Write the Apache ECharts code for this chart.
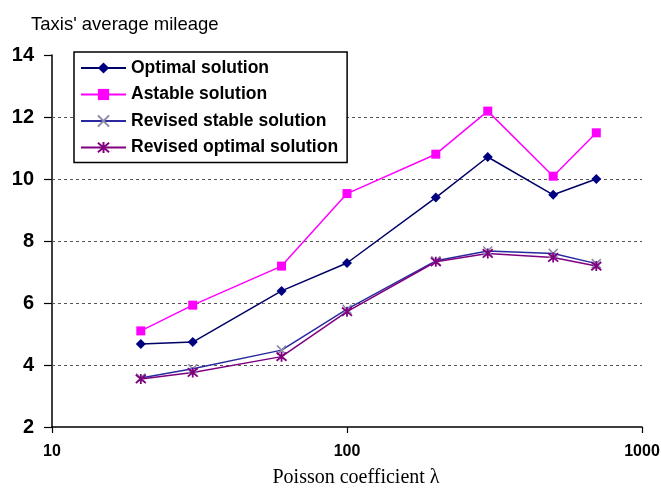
<!DOCTYPE html>
<html>
<head>
<meta charset="utf-8">
<script src="https://cdn.jsdelivr.net/npm/echarts@6/dist/echarts.min.js"></script>
<style>
html,body{margin:0;padding:0;background:#fff;}
#c{width:661px;height:489px;}
</style>
</head>
<body>
<div id="c"></div>
<script>
var lambdas = [20, 30, 60, 100, 200, 300, 500, 700];
var optimal = [4.68, 4.74, 6.39, 7.29, 9.4, 10.71, 9.49, 10.0];
var astable = [5.1, 5.93, 7.19, 9.53, 10.8, 12.19, 10.09, 11.49];
var revisedStable = [3.58, 3.88, 4.48, 5.8, 7.36, 7.68, 7.6, 7.27];
var revisedOptimal = [3.55, 3.76, 4.27, 5.72, 7.33, 7.6, 7.47, 7.19];
var yGridValues = [4, 6, 8, 10, 12];
var seriesNames = ['Optimal solution', 'Astable solution', 'Revised stable solution', 'Revised optimal solution'];

function pairs(vals){ return lambdas.map(function(x,i){ return [x, vals[i]]; }); }

var xSym = 'path://M0,0L10,10M10,0L0,10';
var starSym = 'path://M0,0L10,10M10,0L0,10M5,-1L5,11';

var chart = echarts.init(document.getElementById('c'));
chart.setOption({
  animation: false,
  backgroundColor: '#fff',
  title: {
    text: "Taxis' average mileage",
    left: 26, top: 10,
    textStyle: { fontFamily: 'Liberation Sans, Arial', fontSize: 18.5, fontWeight: 'normal', color: '#000' }
  },
  grid: { left: 52, right: 19, top: 55, bottom: 62, containLabel: false, outerBoundsMode: 'none' },
  legend: {
    orient: 'vertical',
    left: 74, top: 52,
    padding: [7, 9, 6, 6],
    itemGap: 8.5,
    itemWidth: 45,
    itemHeight: 14,
    borderColor: '#000',
    borderWidth: 1.5,
    backgroundColor: '#fff',
    textStyle: { fontFamily: 'Liberation Sans, Arial', fontSize: 17.5, fontWeight: 'bold', color: '#000' },
    data: seriesNames
  },
  xAxis: {
    type: 'log', logBase: 10, min: 10, max: 1000,
    name: 'Poisson coefficient \u03bb',
    nameLocation: 'middle', nameGap: 41,
    nameTextStyle: { fontFamily: 'Liberation Serif, Times New Roman', fontSize: 20, color: '#000', padding: [0, 0, 0, 18] },
    axisLine: { lineStyle: { color: '#000', width: 1.5 } },
    axisTick: { show: true, length: 6, lineStyle: { color: '#000', width: 1.2 } },
    minorTick: { show: false },
    axisLabel: { fontFamily: 'Liberation Sans, Arial', fontSize: 16, fontWeight: 'bold', color: '#000', margin: 17,
      formatter: function(v){ return String(Math.round(v)); } },
    splitLine: { show: false }
  },
  yAxis: {
    type: 'value', min: 2, max: 14, interval: 2,
    axisLine: { show: true, lineStyle: { color: '#000', width: 1.5 } },
    axisTick: { show: true, length: 8, lineStyle: { color: '#000', width: 1.2 } },
    axisLabel: { fontFamily: 'Liberation Sans, Arial', fontSize: 20, fontWeight: 'bold', color: '#000', margin: 18 },
    splitLine: { show: false }
  },
  series: [
    {
      name: seriesNames[0], type: 'line', data: pairs(optimal),
      symbol: 'diamond', symbolSize: 10,
      lineStyle: { color: '#000066', width: 1.5 },
      itemStyle: { color: '#000080' },
      markLine: {
        silent: true, symbol: 'none', label: { show: false },
        lineStyle: { color: '#555', type: [3, 3], width: 1 },
        data: yGridValues.map(function(v){ return { yAxis: v }; }),
        z: 1
      }
    },
    {
      name: seriesNames[1], type: 'line', data: pairs(astable),
      symbol: 'rect', symbolSize: 9,
      lineStyle: { color: '#ff00ff', width: 1.5 },
      itemStyle: { color: '#ff00ff' }
    },
    {
      name: seriesNames[2], type: 'line', data: pairs(revisedStable),
      symbol: xSym, symbolSize: 9,
      lineStyle: { color: '#2a2aa0', width: 1.5 },
      itemStyle: { color: 'rgba(0,0,0,0)', borderColor: '#8a8aa8', borderWidth: 1.5 }
    },
    {
      name: seriesNames[3], type: 'line', data: pairs(revisedOptimal),
      symbol: starSym, symbolSize: 10,
      lineStyle: { color: '#800080', width: 1.5 },
      itemStyle: { color: 'rgba(0,0,0,0)', borderColor: '#800080', borderWidth: 1.8 }
    }
  ]
});
</script>
</body>
</html>
